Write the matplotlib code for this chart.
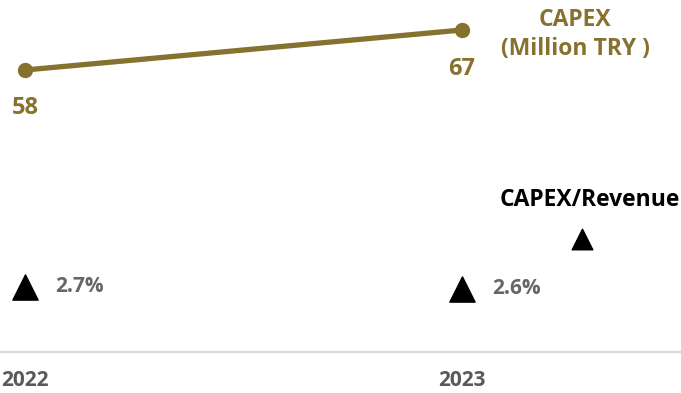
import matplotlib.pyplot as plt

plt.rcParams["font.family"] = ["Open Sans", "DejaVu Sans"]
plt.rcParams["font.weight"] = "bold"

years = ["2022", "2023"]
capex = [58, 67]          # Million TRY
capex_ratio = [2.7, 2.6]  # CAPEX / Revenue, %

gold = "#86712F"
grey = "#666666"
x = list(range(len(years)))

fig = plt.figure(figsize=(6.81, 3.93), dpi=100)
ax = fig.add_axes([0, 41 / 393, 1, 352 / 393])
ax.set_xlim(-25 / 437, 656 / 437)
ax.set_ylim(-5.45, 73.75)

# CAPEX line
ax.plot(x, capex, color=gold, linewidth=3.8, marker="o", markersize=10,
        solid_capstyle="round")
ax.annotate(str(capex[0]), (x[0], capex[0]), xytext=(0, -27),
            textcoords="offset points", ha="center", va="center",
            color=gold, fontsize=17, fontweight="bold")
ax.annotate(str(capex[1]), (x[1], capex[1]), xytext=(0, -28),
            textcoords="offset points", ha="center", va="center",
            color=gold, fontsize=17, fontweight="bold")

# CAPEX/Revenue markers on their own scale
ax2 = ax.twinx()
ax2.set_ylim(-0.55, 17.05)
ax2.scatter(x, capex_ratio, marker="^", s=330, color="black", zorder=3)
for xi, r in zip(x, capex_ratio):
    ax2.annotate(f"{r}%", (xi, r), xytext=(22, 0), textcoords="offset points",
                 ha="left", va="center", color=grey, fontsize=15,
                 fontweight="bold")

# legend-style labels on the right
ax.text(1.259, 66.0, "CAPEX\n(Million TRY )", ha="center", va="center",
        color=gold, fontsize=16.5, fontweight="bold", linespacing=1.3)
ax.text(1.293, 28.8, "CAPEX/Revenue", ha="center", va="center",
        color="black", fontsize=16.5, fontweight="bold")
ax2.scatter([1.275], [5.1], marker="^", s=220, color="black", zorder=3)

for a in (ax, ax2):
    for side in ("top", "left", "right"):
        a.spines[side].set_visible(False)
    a.set_yticks([])
ax.spines["bottom"].set_color("#d9d9d9")
ax.spines["bottom"].set_linewidth(1.5)
ax2.spines["bottom"].set_visible(False)
ax.set_xticks(x)
ax.set_xticklabels(years, color="#595959", fontsize=15, fontweight="bold")
ax.tick_params(axis="x", length=0, pad=13)

plt.savefig("out.png", dpi=100)
